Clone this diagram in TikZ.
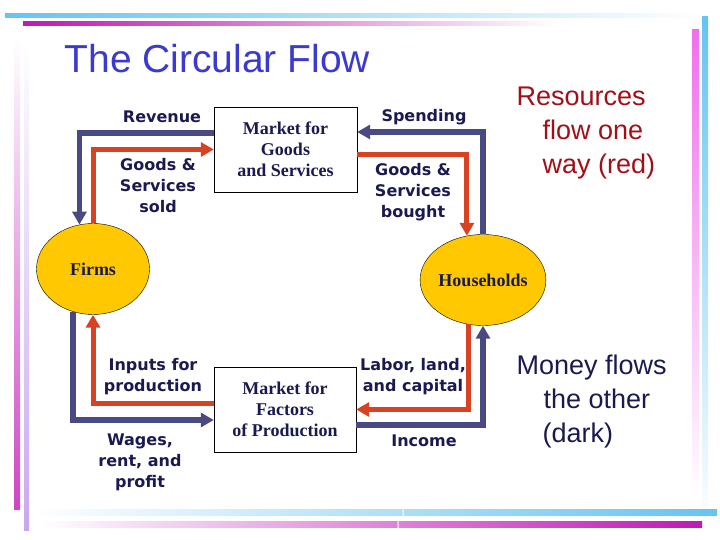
\documentclass[tikz,border=0pt]{standalone}
\usepackage{fontspec}
\setmainfont{Liberation Serif}
\newfontfamily\labelfont{DejaVu Sans}
\newfontfamily\slidefont{Liberation Sans}
\usetikzlibrary{arrows.meta,positioning,shapes.geometric,calc}
\definecolor{sky}{RGB}{102,196,240}
\definecolor{orchid}{RGB}{192,24,180}
\definecolor{pinkbar}{RGB}{240,112,236}
\definecolor{lilac}{RGB}{200,168,240}
\definecolor{titleblue}{RGB}{58,58,208}
\definecolor{navy}{RGB}{26,26,80}
\definecolor{slate}{RGB}{74,74,130}
\definecolor{rust}{RGB}{216,66,34}
\definecolor{wine}{RGB}{160,16,24}
\definecolor{gold}{RGB}{255,200,0}
\tikzset{
  >={Triangle[width=14pt,length=13pt]},
  market/.style={draw=black,fill=white,thin,minimum width=#1,minimum height=85pt,
    align=center,font=\fontsize{18}{21}\selectfont\bfseries,text=navy},
  market/.default=143pt,
  agent/.style={ellipse,draw=black,fill=gold,thin,minimum width=113pt,minimum height=91pt,
    inner sep=0pt,font=\fontsize{18}{21}\selectfont\bfseries,text=navy},
  money/.style={->,draw=slate,line width=5.5pt},
  goods/.style={->,draw=rust,line width=5pt},
  flowtag/.style={font=\labelfont\fontsize{16}{21}\selectfont\bfseries,text=navy,align=center},
  note/.style={font=\slidefont\fontsize{27}{34}\selectfont,text=#1,align=left,anchor=west},
  note/.default=navy,
}
\begin{document}
\begin{tikzpicture}[x=1pt,y=1pt]
  \useasboundingbox (0,0) rectangle (720,540);
  % slide decoration
  \shade[left color=sky,right color=white] (5,522) rectangle (705,526);
  \shade[left color=orchid,right color=white] (23,514) rectangle (560,518);
  \shade[top color=white,bottom color=orchid!80] (14,30) rectangle (20,500);
  \shade[top color=white,bottom color=lilac] (24,9) rectangle (29,500);
  \shade[top color=pinkbar,bottom color=white] (692,40) rectangle (699,510);
  \shade[top color=sky,bottom color=white] (702,10) rectangle (708,523);
  \shade[left color=white,right color=sky] (30,24) rectangle (717,30);
  \shade[left color=white,right color=orchid] (40,12) rectangle (702,18);
  \fill[white] (402.5,23) rectangle (403.5,31) (397.5,11) rectangle (398.5,19);

  \node[anchor=base west,font=\slidefont\fontsize{39}{44}\selectfont,text=titleblue]
    (title) at (61,467) {The Circular Flow};

  % agents and markets
  \node[agent] (firms) at (93,271) {Firms};
  \node[agent,minimum width=114pt] (house) at (483,260) {Households};
  \node[market] (goodsmkt) at (285.5,390.5) {Market for\\Goods\\and Services};
  \node[market=142pt] (factmkt) at (285,130.5) {Market for\\Factors\\of Production};

  % flows
  \draw[money] ($(goodsmkt.west)+(0,16.5)$) -| (firms.107);
  \draw[goods] (firms.north) |- (goodsmkt.west);
  \draw[money] (house.north) |- ($(goodsmkt.east)+(0,17.5)$);
  \draw[goods] ($(goodsmkt.east)+(0,-5.5)$) -| (house.110);
  \draw[goods] ($(factmkt.west)+(0,5.5)$) -| (firms.south);
  \draw[money] (firms.245) |- ($(factmkt.west)+(0,-10.5)$);
  \draw[goods] (house.252) |- (factmkt.east);
  \draw[money] ($(factmkt.east)+(0,-15.5)$) -| (house.south);

  % flow labels
  \node[flowtag] (revenue) at (162,423) {Revenue};
  \node[flowtag] (sold) at (158,354) {Goods \&\\Services\\sold};
  \node[flowtag] (spending) at (424,423) {Spending};
  \node[flowtag] (bought) at (413,348) {Goods \&\\Services\\bought};
  \node[flowtag] (inputs) at (153,163) {Inputs for\\production};
  \node[flowtag] (wages) at (140,78) {Wages,\\rent, and\\profit};
  \node[flowtag] (labor) at (413,163) {Labor, land,\\and capital};
  \node[flowtag] (income) at (424,99) {Income};

  % side notes
  \node[note=wine] (resources) at (513,407)
    {Resources\\\hspace*{26pt}flow one\\\hspace*{26pt}way (red)};
  \node[note] (moneynote) at (513,138)
    {Money flows\\\hspace*{27pt}the other\\\hspace*{26pt}(dark)};
\end{tikzpicture}
\end{document}
